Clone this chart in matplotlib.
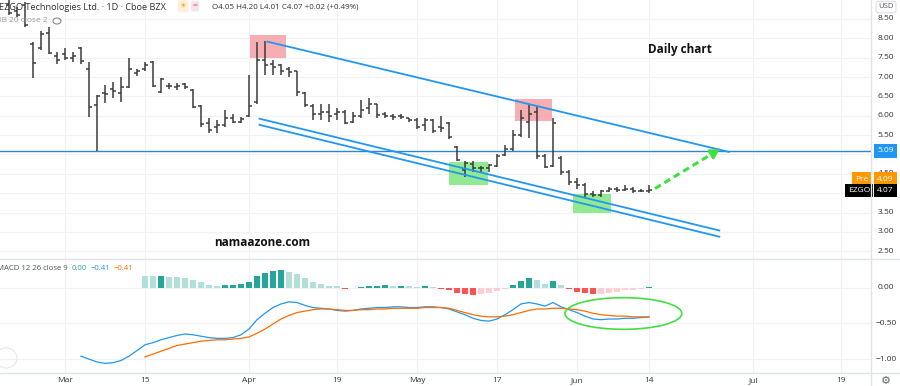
import numpy as np
import matplotlib
matplotlib.use('Agg')
import matplotlib.pyplot as plt
from matplotlib.patches import Rectangle, Ellipse
from matplotlib.transforms import blended_transform_factory as btf

plt.rcParams['font.family'] = ['Open Sans', 'DejaVu Sans']

# ---------------- data ----------------
first_bar = -7  # bar index of the first OHLC bar (0 = 1 Mar 2021)
opens = [8.85, 8.70, 8.85, 7.85, 7.75, 8.15, 7.55, 7.60, 7.50, 7.75, 7.20, 6.28, 6.60, 6.70, 6.60,
         6.75, 7.10, 7.20, 7.40, 6.62, 6.78, 6.75, 6.82, 6.66, 6.25, 5.82, 5.70, 5.75, 5.95, 5.85,
         6.00, 6.36, 7.45, 7.35, 7.30, 7.20, 7.15, 6.60, 6.25, 6.05, 6.10, 6.05, 6.10, 5.85, 6.00,
         6.20, 6.30, 6.05, 6.00, 6.00, 5.95, 5.88, 5.75, 5.90, 5.70, 5.80, 5.20, 4.60, 4.75, 4.65,
         4.65, 4.70, 4.98, 5.15, 5.50, 5.85, 6.10, 4.95, 4.70, 4.90, 4.55, 4.30, 4.20, 3.98, 3.95,
         4.05, 4.10, 4.08, 4.12, 4.05, 4.05]
highs = [9.10, 8.80, 8.95, 7.90, 8.20, 8.30, 7.65, 7.75, 7.65, 7.78, 7.38, 6.54, 6.80, 6.87, 7.00,
         7.50, 7.20, 7.40, 7.42, 6.98, 6.85, 6.84, 6.85, 6.68, 6.27, 5.95, 5.90, 6.15, 6.05, 5.97,
         7.05, 7.90, 7.92, 7.45, 7.35, 7.25, 7.15, 6.62, 6.30, 6.30, 6.30, 6.20, 6.15, 6.10, 6.40,
         6.45, 6.30, 6.10, 6.05, 6.05, 5.95, 5.95, 5.95, 5.92, 6.00, 5.85, 5.22, 4.82, 4.82, 4.70,
         4.75, 5.00, 5.24, 5.63, 6.15, 6.28, 6.25, 5.00, 5.95, 4.95, 4.60, 4.38, 4.25, 4.05, 4.08,
         4.15, 4.15, 4.20, 4.15, 4.10, 4.20]
lows = [8.60, 8.55, 8.30, 6.98, 7.70, 7.60, 7.35, 7.45, 7.40, 7.35, 5.97, 5.09, 6.32, 6.45, 6.35,
        6.72, 7.03, 7.15, 6.74, 6.58, 6.68, 6.66, 6.70, 6.20, 5.71, 5.55, 5.55, 5.72, 5.80, 5.82,
        5.98, 6.30, 7.05, 7.05, 7.05, 7.00, 6.50, 6.22, 5.90, 5.90, 5.85, 5.90, 5.78, 5.82, 5.95,
        6.05, 5.95, 5.95, 5.90, 5.92, 5.85, 5.65, 5.60, 5.55, 5.58, 5.40, 4.82, 4.42, 4.55, 4.55,
        4.55, 4.68, 4.95, 5.10, 5.45, 5.42, 4.88, 4.65, 4.68, 4.47, 4.20, 4.12, 3.90, 3.90, 3.90,
        4.02, 4.03, 4.05, 4.00, 4.02, 4.01]
closes = [8.65, 8.60, 8.35, 7.37, 8.10, 7.62, 7.45, 7.50, 7.55, 7.42, 6.22, 6.52, 6.55, 6.65, 6.75,
          7.20, 7.15, 7.30, 6.77, 6.95, 6.76, 6.78, 6.73, 6.22, 5.79, 5.62, 5.75, 5.95, 5.85, 5.92,
          6.25, 7.44, 7.30, 7.25, 7.15, 7.12, 6.62, 6.28, 6.05, 6.10, 6.00, 6.10, 5.82, 6.00, 6.15,
          6.30, 6.02, 6.00, 5.98, 5.97, 5.88, 5.70, 5.90, 5.60, 5.68, 5.45, 4.85, 4.78, 4.65, 4.66,
          4.72, 4.95, 5.15, 5.50, 5.95, 6.05, 4.95, 4.68, 5.80, 4.55, 4.30, 4.20, 3.98, 3.95, 4.05,
          4.10, 4.08, 4.12, 4.05, 4.05, 4.07]

macd_first = 2
macd_line = [-0.96, -1.00, -1.04, -1.06, -1.05, -1.02, -0.96, -0.88, -0.80, -0.77, -0.73, -0.70,
             -0.67, -0.65, -0.66, -0.68, -0.70, -0.71, -0.71, -0.70, -0.66, -0.58, -0.45, -0.36,
             -0.28, -0.23, -0.20, -0.21, -0.25, -0.28, -0.29, -0.30, -0.32, -0.33, -0.32, -0.30,
             -0.29, -0.28, -0.28, -0.27, -0.27, -0.28, -0.28, -0.27, -0.27, -0.28, -0.30, -0.34,
             -0.38, -0.43, -0.46, -0.47, -0.44, -0.38, -0.31, -0.23, -0.21, -0.23, -0.26, -0.21,
             -0.27, -0.31, -0.35, -0.40, -0.44, -0.45, -0.44, -0.44, -0.43, -0.43, -0.42, -0.41]
signal_first = 10
signal_line = [-0.97, -0.93, -0.89, -0.85, -0.81, -0.79, -0.77, -0.75, -0.74, -0.73, -0.73, -0.72,
               -0.71, -0.69, -0.64, -0.58, -0.51, -0.44, -0.39, -0.35, -0.33, -0.31, -0.30, -0.30,
               -0.31, -0.32, -0.32, -0.31, -0.31, -0.30, -0.30, -0.29, -0.29, -0.29, -0.29, -0.28,
               -0.28, -0.28, -0.29, -0.32, -0.35, -0.38, -0.40, -0.41, -0.41, -0.40, -0.38, -0.35,
               -0.32, -0.30, -0.30, -0.29, -0.29, -0.30, -0.31, -0.33, -0.36, -0.38, -0.39, -0.40,
               -0.40, -0.41, -0.41, -0.41]
hist_first = 10
histogram = [0.163, 0.154, 0.163, 0.149, 0.144, 0.135, 0.107, 0.070, 0.037, 0.014, 0.033, 0.034,
             0.042, 0.079, 0.163, 0.209, 0.235, 0.240, 0.219, 0.186, 0.126, 0.070, 0.042, 0.023,
             0.014, -0.023, -0.010, 0.005, 0.023, 0.025, 0.028, 0.014, 0.023, 0.014, 0.005, 0.023,
             0.003, -0.020, -0.033, -0.070, -0.084, -0.100, -0.084, -0.070, -0.047, -0.023, 0.037,
             0.093, 0.130, 0.100, 0.047, 0.084, 0.033, -0.023, -0.056, -0.079, -0.093, -0.084,
             -0.070, -0.056, -0.037, -0.028, -0.019, 0.003]

date_labels = ["Mar", "15", "Apr", "19", "May", "17", "Jun", "14", "Jul", "19"]
date_bars = [0, 10, 23, 34, 44, 54, 64, 73, 86, 97]
price_labels = ["8.50", "8.00", "7.50", "7.00", "6.50", "6.00", "5.50", "5.00", "4.50", "4.00",
                "3.50", "3.00", "2.50"]
macd_labels = ["0.00", "\u22120.50", "\u22121.00"]
macd_levels = [0.0, -0.5, -1.0]

level_price = 5.09
pre_price = 4.09
last_price = 4.07

# drawings (bar index, price)
red_boxes = [(23.1, 27.6, 7.50, 8.09), (56.3, 60.9, 5.87, 6.43)]
green_boxes = [(48.0, 52.9, 4.21, 4.81), (63.5, 68.3, 3.48, 3.98)]
channel_lines = [((25.2, 7.92), (83.1, 5.06)),
                 ((24.2, 5.93), (81.9, 3.03)),
                 ((24.2, 5.77), (81.9, 2.87))]
arrow_line = ((73.75, 4.12), (82.1, 5.17))
ellipse_spec = (69.8, -0.363, 14.6, 0.442)

# ---------------- layout ----------------
W, H = 900, 386
fig = plt.figure(figsize=(W / 100, H / 100), dpi=100)
fig.patch.set_facecolor('white')


def fx(px):
    return px / W


def fy(py):
    return 1 - py / H


AX_RIGHT = 871
P_TOP, P_BOT = 0, 259
M_TOP, M_BOT = 259, 373
AXIS_FS = 6.0

ax1 = fig.add_axes([0, fy(P_BOT), fx(AX_RIGHT), (P_BOT - P_TOP) / H])
ax2 = fig.add_axes([0, fy(M_BOT), fx(AX_RIGHT), (M_BOT - M_TOP) / H])

xlim = (-65 / 8, (AX_RIGHT - 65) / 8)
ppu = 38.7
ax1.set_xlim(*xlim)
ax1.set_ylim(8.5 - (P_BOT - 19) / ppu, 8.5 + 19 / ppu)
mpu = 71.6
ax2.set_xlim(*xlim)
ax2.set_ylim(-(M_BOT - 287.5) / mpu, (287.5 - M_TOP) / mpu)

grid_c = '#f0f2f6'
for ax in (ax1, ax2):
    ax.set_facecolor('white')
    for s in ax.spines.values():
        s.set_visible(False)
    ax.set_xticks([])
    ax.set_yticks([])
    for b in date_bars:
        ax.axvline(b, color=grid_c, lw=0.9, zorder=0)

for lab in price_labels:
    ax1.axhline(float(lab), color=grid_c, lw=0.9, zorder=0)
for lv in macd_levels:
    ax2.axhline(lv, color=grid_c, lw=0.9, zorder=0)

# separators
fig.add_artist(plt.Line2D([fx(AX_RIGHT), fx(AX_RIGHT)], [0, 1], color='#e0e3eb', lw=1))
fig.add_artist(plt.Line2D([0, 1], [fy(P_BOT), fy(P_BOT)], color='#e0e3eb', lw=1))
fig.add_artist(plt.Line2D([0, 1], [fy(M_BOT), fy(M_BOT)], color='#e0e3eb', lw=1))

# ---------------- price pane ----------------
xb = np.arange(len(closes)) + first_bar
for (x0, x1, y0, y1) in red_boxes:
    ax1.add_patch(Rectangle((x0, y0), x1 - x0, y1 - y0, facecolor='#f49aa0', alpha=0.8,
                            edgecolor='none', zorder=1))
for (x0, x1, y0, y1) in green_boxes:
    ax1.add_patch(Rectangle((x0, y0), x1 - x0, y1 - y0, facecolor='#7ee67e', alpha=0.85,
                            edgecolor='none', zorder=1))

bar_c = '#3c3c3c'
ax1.vlines(xb, lows, highs, color=bar_c, lw=1.1, zorder=3)
ax1.hlines(opens, xb - 0.42, xb, color=bar_c, lw=1.1, zorder=3)
ax1.hlines(closes, xb, xb + 0.42, color=bar_c, lw=1.1, zorder=3)

ax1.axhline(level_price, color='#3183d4', lw=1.0, zorder=2)
for (a, b) in channel_lines:
    ax1.plot([a[0], b[0]], [a[1], b[1]], color='#2196f3', lw=1.3, zorder=4,
             solid_capstyle='butt')

(a0, a1) = arrow_line
ax1.plot([a0[0], a1[0] - 0.6], [a0[1], a1[1] - 0.075], color='#3ee03e', lw=2.2,
         ls=(0, (2.2, 1.4)), zorder=5)
ax1.annotate('', xy=a1, xytext=(a1[0] - 1.2, a1[1] - 0.15),
             arrowprops=dict(arrowstyle='-|>,head_length=0.5,head_width=0.3',
                             color='#3ee03e', lw=2), zorder=5)

fig.text(fx(680), fy(50), 'Daily chart', ha='center', va='center', fontsize=8.5,
         fontweight='bold', color='#111111')
fig.text(fx(262), fy(242), 'namaazone.com', ha='center', va='center', fontsize=8.5,
         fontweight='bold', color='#111111')

# legend top-left
fig.text(fx(-1), fy(7), 'EZGO Technologies Ltd. \u00b7 1D \u00b7 Cboe BZX', ha='left',
         va='center', fontsize=6.6, color='#333333')
fig.text(fx(183), fy(6), '\u2600', ha='center', va='center', fontsize=5.5, color='#f7a21b',
         family='DejaVu Sans',
         bbox=dict(boxstyle='round,pad=0.25', facecolor='#fdf0dc', edgecolor='none'))
fig.text(fx(195), fy(6), '=', ha='center', va='center', fontsize=6, color='#e0457b',
         bbox=dict(boxstyle='round,pad=0.2', facecolor='#fbe1ea', edgecolor='none'))
fig.text(fx(212), fy(7), 'O4.05 H4.20 L4.01 C4.07 +0.02 (+0.49%)', ha='left',
         va='center', fontsize=5.8, color='#333333')
fig.text(fx(-4), fy(21), 'BB 20 close 2', ha='left', va='center', fontsize=6.0,
         color='#9a9a9a')
fig.add_artist(Ellipse((fx(57), fy(21)), fx(8), 6 / H, facecolor='none', edgecolor='#888888',
                       lw=0.8))

# right price axis labels
tr1 = btf(fig.transFigure, ax1.transData)
for lab in price_labels:
    v = float(lab)
    if abs(v - level_price) < 0.12 or abs(v - last_price) < 0.12:
        continue  # hidden behind the coloured price labels
    ax1.text(fx(886), v, lab, transform=tr1, ha='center', va='center', fontsize=AXIS_FS,
             color='#333333', clip_on=False)


def tag(xpx, yval, txt, fc):
    ax1.text(fx(xpx), yval, txt, transform=tr1, ha='center', va='center', fontsize=AXIS_FS,
             color='white', clip_on=False, zorder=10,
             bbox=dict(boxstyle='square,pad=0.4', facecolor=fc, edgecolor='none'))


tag(885.5, level_price, '%.2f' % level_price, '#2196f3')
tag(885.5, pre_price + 0.27, '%.2f' % pre_price, '#ff9800')
tag(862, pre_price + 0.27, 'Pre', '#ff9800')
tag(885.5, last_price, '%.2f' % last_price, '#000000')
tag(859, last_price, 'EZGO', '#000000')
fig.text(fx(886), fy(7), 'USD', ha='center', va='center', fontsize=5.5, color='#555555',
         bbox=dict(boxstyle='round,pad=0.3', facecolor='white', edgecolor='#d0d3da', lw=0.6))

# ---------------- MACD pane ----------------
hx = np.arange(len(histogram)) + hist_first
hcols = []
for k, v in enumerate(histogram):
    rising = k > 0 and v > histogram[k - 1]
    if v >= 0:
        hcols.append('#26a69a' if rising else '#b2dfdb')
    else:
        hcols.append('#ffcdd2' if rising else '#ff5252')
ax2.bar(hx, histogram, width=0.86, color=hcols, zorder=2)

mx = np.arange(len(macd_line)) + macd_first
sx = np.arange(len(signal_line)) + signal_first
ax2.plot(mx, macd_line, color='#2196f3', lw=0.9, zorder=3)
ax2.plot(sx, signal_line, color='#ff6d00', lw=0.9, zorder=3)

ex, ey, ew, eh = ellipse_spec
ax2.add_patch(Ellipse((ex, ey), ew, eh, facecolor='none', edgecolor='#44dd44', lw=1.2,
                      zorder=4))

tr2 = btf(fig.transFigure, ax2.transData)
for lab, lv in zip(macd_labels, macd_levels):
    ax2.text(fx(886), lv, lab, transform=tr2, ha='center', va='center', fontsize=AXIS_FS,
             color='#333333', clip_on=False)

fig.text(fx(-3), fy(269), 'MACD 12 26 close 9', ha='left', va='center', fontsize=5.6,
         color='#555555')
fig.text(fx(72), fy(269), '%.2f' % histogram[-1], ha='left', va='center', fontsize=5.6,
         color='#26a69a')
fig.text(fx(91), fy(269), '\u2212%.2f' % abs(macd_line[-1]), ha='left', va='center',
         fontsize=5.6, color='#2196f3')
fig.text(fx(114), fy(269), '\u2212%.2f' % abs(signal_line[-1]), ha='left', va='center',
         fontsize=5.6, color='#ff6d00')
fig.add_artist(Ellipse((fx(6), fy(358)), fx(22), 20 / H, facecolor='none',
                       edgecolor='#e6e6e6', lw=0.8))

# date axis
trd = btf(ax2.transData, fig.transFigure)
for lab, b in zip(date_labels, date_bars):
    ax2.text(b, fy(381), lab, transform=trd, ha='center', va='center', fontsize=AXIS_FS,
             color='#333333', clip_on=False)
fig.text(fx(886), fy(381), '\u2699', ha='center', va='center', fontsize=8, color='#666666',
         family='DejaVu Sans')

fig.savefig('out.png', dpi=100, facecolor='white')
